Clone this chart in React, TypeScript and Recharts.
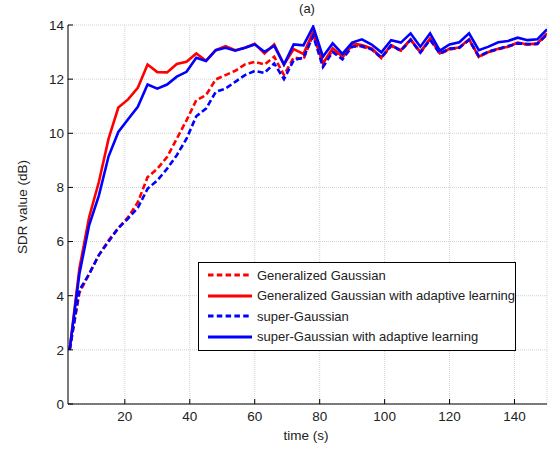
import { LineChart, Line, XAxis, YAxis, CartesianGrid, Legend } from 'recharts'

// time axis, one sample every 3 s
const time = [
  3, 6, 9, 12, 15, 18, 21, 24, 27, 30, 33, 36, 39, 42, 45, 48, 51, 54, 57, 60,
  63, 66, 69, 72, 75, 78, 81, 84, 87, 90, 93, 96, 99, 102, 105, 108, 111, 114, 117, 120,
  123, 126, 129, 132, 135, 138, 141, 144, 147, 150,
]

// SDR values (dB)
const generalizedGaussian = [
  2.0, 4.1, 4.8, 5.5, 6.05, 6.5, 6.9, 7.45, 8.38, 8.69, 9.12, 9.8, 10.48, 11.22, 11.41, 11.99, 12.15, 12.31, 12.54, 12.64,
  12.54, 12.83, 12.15, 12.8, 12.73, 13.65, 12.6, 13.05, 12.8, 13.25, 13.2, 13.1, 12.78, 13.22, 13.05, 13.45, 12.98, 13.48, 12.93, 13.1,
  13.15, 13.45, 12.82, 13.0, 13.1, 13.2, 13.33, 13.27, 13.3, 13.65,
]
const generalizedGaussianAdaptive = [
  2.0, 5.0, 6.9, 8.2, 9.8, 10.95, 11.25, 11.68, 12.54, 12.26, 12.25, 12.56, 12.64, 12.95, 12.68, 13.07, 13.22, 13.07, 13.16, 13.31,
  12.95, 13.28, 12.54, 13.11, 12.93, 13.75, 12.58, 13.14, 12.83, 13.32, 13.26, 13.14, 12.8, 13.26, 13.07, 13.47, 13.0, 13.5, 12.95, 13.12,
  13.17, 13.47, 12.83, 13.0, 13.12, 13.2, 13.35, 13.28, 13.32, 13.69,
]
const superGaussian = [
  2.0, 4.2, 4.8, 5.5, 6.0, 6.5, 6.85, 7.25, 7.95, 8.26, 8.69, 9.19, 9.8, 10.63, 10.91, 11.53, 11.65, 11.9, 12.15, 12.3,
  12.23, 12.58, 12.0, 12.7, 12.8, 13.6, 12.45, 13.0, 12.73, 13.2, 13.22, 13.1, 12.8, 13.25, 13.05, 13.45, 12.98, 13.45, 12.95, 13.12,
  13.17, 13.45, 12.85, 13.02, 13.12, 13.22, 13.32, 13.3, 13.3, 13.66,
]
const superGaussianAdaptive = [
  2.0, 4.8, 6.6, 7.7, 9.15, 10.05, 10.52, 10.98, 11.8, 11.65, 11.8, 12.09, 12.27, 12.79, 12.67, 13.07, 13.16, 13.05, 13.16, 13.28,
  13.01, 13.23, 12.54, 13.28, 13.25, 13.94, 12.83, 13.32, 12.93, 13.35, 13.47, 13.28, 12.99, 13.44, 13.35, 13.69, 13.2, 13.69, 13.05, 13.28,
  13.36, 13.69, 13.07, 13.2, 13.36, 13.41, 13.53, 13.44, 13.47, 13.84,
]

const xTicks = [20, 40, 60, 80, 100, 120, 140]
const yTicks = [0, 2, 4, 6, 8, 10, 12, 14]

const SERIES = [
  { key: 'gg', name: 'Generalized Gaussian', color: '#ff0000', dash: '6 3' },
  { key: 'gga', name: 'Generalized Gaussian with adaptive learning', color: '#ff0000', dash: undefined },
  { key: 'sg', name: 'super-Gaussian', color: '#0000ff', dash: '6 3' },
  { key: 'sga', name: 'super-Gaussian with adaptive learning', color: '#0000ff', dash: undefined },
]

const data = time.map((t, i) => ({
  t,
  gg: generalizedGaussian[i],
  gga: generalizedGaussianAdaptive[i],
  sg: superGaussian[i],
  sga: superGaussianAdaptive[i],
}))

const FONT = '"Liberation Sans", Arial, Helvetica, sans-serif'
const tickStyle = { fontSize: 13.5, fill: '#222', fontFamily: FONT }

function LegendBox() {
  return (
    <div
      style={{
        width: 316,
        height: 85,
        border: '1px solid #000',
        background: '#fff',
        paddingTop: 2,
        boxSizing: 'content-box',
        fontFamily: FONT,
        fontSize: 13,
        color: '#222',
      }}
    >
      {SERIES.map((s) => (
        <div key={s.key} style={{ display: 'flex', alignItems: 'center', height: 20.5 }}>
          <svg width={58} height={6} style={{ flex: 'none' }}>
            <line x1={9} x2={53} y1={3} y2={3} stroke={s.color} strokeWidth={3} strokeDasharray={s.dash ? '5.5 3.3' : undefined} />
          </svg>
          <span style={{ whiteSpace: 'nowrap' }}>{s.name}</span>
        </div>
      ))}
    </div>
  )
}

export default function App() {
  return (
    <div style={{ position: 'absolute', left: 0, top: 0, background: '#fff' }}>
      <LineChart width={557} height={449} data={data} margin={{ top: 25, right: 10, left: 0, bottom: 0 }}>
        <CartesianGrid stroke="#d2d2d2" strokeDasharray="1 1" />
        <XAxis
          dataKey="t"
          type="number"
          domain={[2.5, 150]}
          ticks={xTicks}
          allowDataOverflow
          height={45}
          tickSize={-5}
          tickMargin={12}
          tick={tickStyle}
          stroke="#000"
        />
        <XAxis
          xAxisId="top"
          orientation="top"
          type="number"
          domain={[2.5, 150]}
          ticks={xTicks}
          allowDataOverflow
          height={0}
          tickSize={-5}
          tick={false}
          stroke="#000"
        />
        <YAxis
          type="number"
          domain={[0, 14]}
          ticks={yTicks}
          allowDataOverflow
          width={68}
          tickSize={-5}
          tickMargin={9}
          tick={tickStyle}
          stroke="#000"
        />
        <YAxis
          yAxisId="right"
          orientation="right"
          type="number"
          domain={[0, 14]}
          ticks={yTicks}
          allowDataOverflow
          width={0}
          tickSize={-5}
          tick={false}
          stroke="#000"
        />
        {SERIES.map((s) => (
          <Line
            key={s.key}
            type="linear"
            dataKey={s.key}
            name={s.name}
            stroke={s.color}
            strokeWidth={2.6}
            strokeDasharray={s.dash}
            dot={false}
            activeDot={false}
            isAnimationActive={false}
          />
        ))}
        <Legend
          layout="vertical"
          align="center"
          verticalAlign="middle"
          content={() => <LegendBox />}
          wrapperStyle={{ left: 198, top: 262, width: 318 }}
        />
        <text x={307} y={13} textAnchor="middle" fontSize={13} fontFamily={FONT} fill="#222">
          (a)
        </text>
        <text x={306} y={440} textAnchor="middle" fontSize={13.5} fontFamily={FONT} fill="#222">
          time (s)
        </text>
        <text
          x={27}
          y={207}
          textAnchor="middle"
          fontSize={13.5}
          fontFamily={FONT}
          fill="#222"
          transform="rotate(-90 27 207)"
        >
          SDR value (dB)
        </text>
      </LineChart>
    </div>
  )
}
